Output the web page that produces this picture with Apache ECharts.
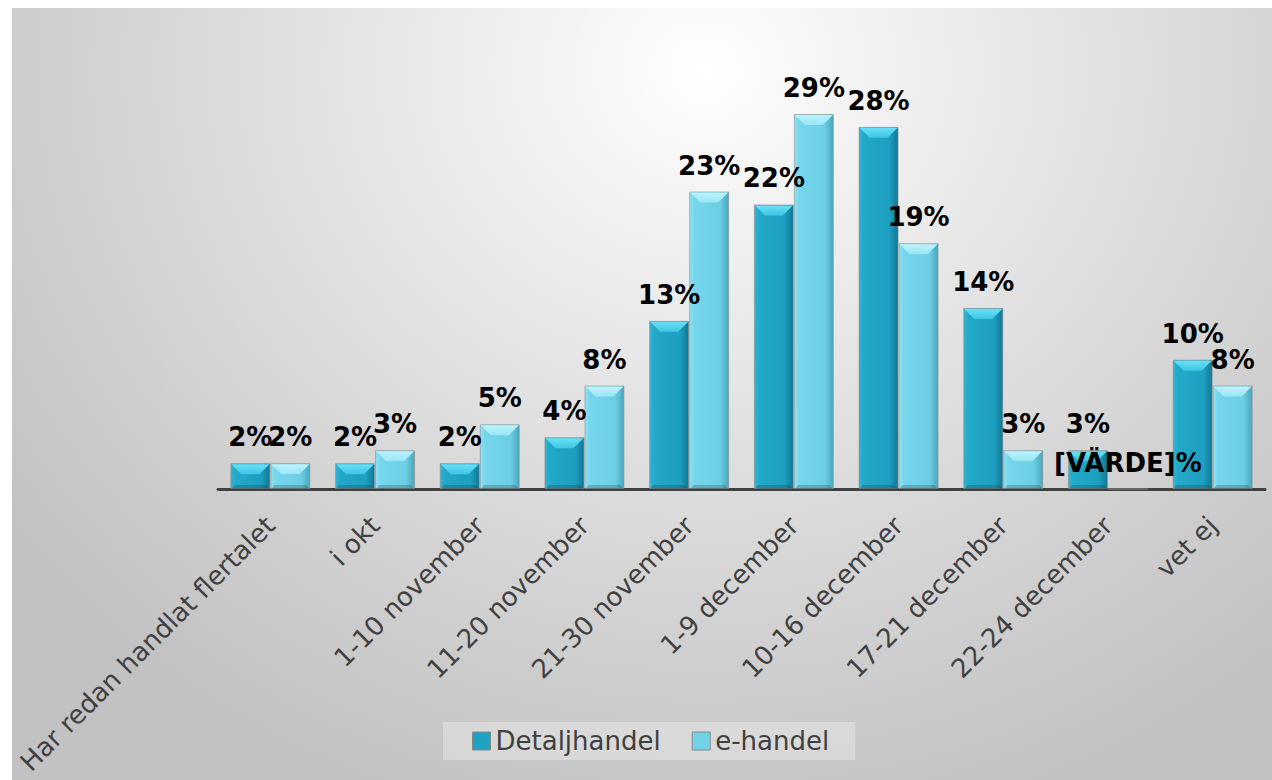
<!DOCTYPE html>
<html>
<head>
<meta charset="utf-8">
<script src="https://cdn.jsdelivr.net/npm/echarts@6/dist/echarts.min.js"></script>
<style>
  html, body { margin: 0; padding: 0; background: #ffffff; }
  #chart {
    position: absolute; left: 12px; top: 8px; width: 1260px; height: 772px;
    background: radial-gradient(ellipse 68% 100% at 55% 8%, #ffffff 0%, #f4f4f4 16%, #dedede 52%, #cdcdcd 80%, #c2c2c2 100%);
  }
</style>
</head>
<body>
<div id="chart"></div>
<script>
// Timing of Christmas shopping: share of respondents per period
const categories = [
  'Har redan handlat flertalet', 'i okt', '1-10 november', '11-20 november',
  '21-30 november', '1-9 december', '10-16 december', '17-21 december',
  '22-24 december', 'vet ej'
];
const detaljhandel = [2, 2, 2, 4, 13, 22, 28, 14, 3, 10];
const ehandel = [2, 3, 5, 8, 23, 29, 19, 3, 0, 8];
// the e-handel value for 22-24 december has no number, only the placeholder text
const ehandelLabelText = { 8: '[VÄRDE]%' };

const BAR_FRACTION = 0.382; // bar width as share of the category band
const FONT = '"DejaVu Sans", Verdana, sans-serif';

const palette = {
  Detaljhandel: {
    body: ['#30b6d4', '#22a8c8', '#1d9fc0', '#127693'],
    top: ['#6ae0f6', '#3cc6e4'],
    icon: '#1fa2c2'
  },
  'e-handel': {
    body: ['#8fe2f2', '#76d6eb', '#6ccee4', '#4aa6bc'],
    top: ['#bdf2fc', '#98e6f6'],
    icon: '#72d2e7'
  }
};

function bodyGradient(c) {
  return new echarts.graphic.LinearGradient(0, 0, 1, 0, [
    { offset: 0, color: c[0] },
    { offset: 0.12, color: c[1] },
    { offset: 0.78, color: c[2] },
    { offset: 1, color: c[3] }
  ]);
}

// bevel highlights and value labels on top of each bar
function bevelRenderer(name, side, overrides) {
  const c = palette[name];
  return function (params, api) {
    const cat = api.value(0);
    const val = api.value(1);
    const band = api.size([1, 0])[0];
    const w = band * BAR_FRACTION;
    const center = api.coord([cat, 0]);
    const x0 = side < 0 ? center[0] - w : center[0];
    const x1 = x0 + w;
    const yb = center[1];
    const yt = api.coord([cat, val])[1];
    const h = yb - yt;
    const children = [];
    if (h > 2) {
      const b = Math.min(11, h / 2);
      children.push({
        type: 'polygon',
        shape: { points: [[x0 + 1, yt + 1], [x1 - 1, yt + 1], [x1 - b, yt + b], [x0 + b, yt + b]] },
        style: {
          fill: new echarts.graphic.LinearGradient(0, 0, 0, 1, [
            { offset: 0, color: c.top[0] }, { offset: 1, color: c.top[1] }
          ])
        }
      });
      const bb = Math.min(4, h / 4);
      children.push({
        type: 'polygon',
        shape: { points: [[x0 + 1, yb], [x1 - 1, yb], [x1 - bb, yb - bb], [x0 + bb, yb - bb]] },
        style: { fill: 'rgba(0,40,60,0.22)' }
      });
    }
    const text = overrides && overrides[params.dataIndex] !== undefined
      ? overrides[params.dataIndex] : val + '%';
    children.push({
      type: 'text',
      x: (x0 + x1) / 2,
      y: yt - 26,
      style: {
        text: text,
        fill: '#000000',
        font: 'bold 26px ' + FONT,
        align: 'center',
        verticalAlign: 'middle'
      }
    });
    return { type: 'group', children: children };
  };
}

const chart = echarts.init(document.getElementById('chart'), null, { renderer: 'svg' });

chart.setOption({
  animation: false,
  textStyle: { fontFamily: FONT },
  grid: { left: 206, right: 7, top: 93, bottom: 291, containLabel: false },
  legend: {
    left: 431,
    top: 714,
    itemWidth: 18,
    itemHeight: 18,
    itemGap: 31,
    padding: [6, 26, 6, 29],
    backgroundColor: 'rgba(255,255,255,0.3)',
    textStyle: { fontSize: 26, color: '#404040', fontFamily: FONT },
    data: [
      { name: 'Detaljhandel', icon: 'rect', itemStyle: { color: palette.Detaljhandel.icon, borderColor: '#888888', borderWidth: 1 } },
      { name: 'e-handel', icon: 'rect', itemStyle: { color: palette['e-handel'].icon, borderColor: '#888888', borderWidth: 1 } }
    ]
  },
  xAxis: {
    type: 'category',
    data: categories,
    axisLine: { lineStyle: { color: '#404040', width: 3 } },
    axisTick: { show: false },
    axisLabel: {
      interval: 0,
      rotate: 45,
      margin: 32,
      fontSize: 26,
      color: '#404040'
    }
  },
  yAxis: {
    type: 'value',
    min: 0,
    max: 30,
    show: false,
    splitLine: { show: false }
  },
  series: [
    {
      name: 'Detaljhandel',
      type: 'bar',
      data: detaljhandel,
      barWidth: (BAR_FRACTION * 100) + '%',
      barGap: '0%',
      itemStyle: { color: bodyGradient(palette.Detaljhandel.body), borderColor: 'rgba(140,140,140,0.6)', borderWidth: 1 },
      z: 2
    },
    {
      name: 'e-handel',
      type: 'bar',
      data: ehandel,
      barWidth: (BAR_FRACTION * 100) + '%',
      barGap: '0%',
      itemStyle: { color: bodyGradient(palette['e-handel'].body), borderColor: 'rgba(140,140,140,0.6)', borderWidth: 1 },
      z: 2
    },
    {
      name: 'Detaljhandel',
      type: 'custom',
      silent: true,
      z: 5,
      data: detaljhandel.map((v, i) => [i, v]),
      encode: { x: 0, y: 1 },
      renderItem: bevelRenderer('Detaljhandel', -1, null)
    },
    {
      name: 'e-handel',
      type: 'custom',
      silent: true,
      z: 5,
      data: ehandel.map((v, i) => [i, v]),
      encode: { x: 0, y: 1 },
      renderItem: bevelRenderer('e-handel', 1, ehandelLabelText)
    }
  ]
});
</script>
</body>
</html>
